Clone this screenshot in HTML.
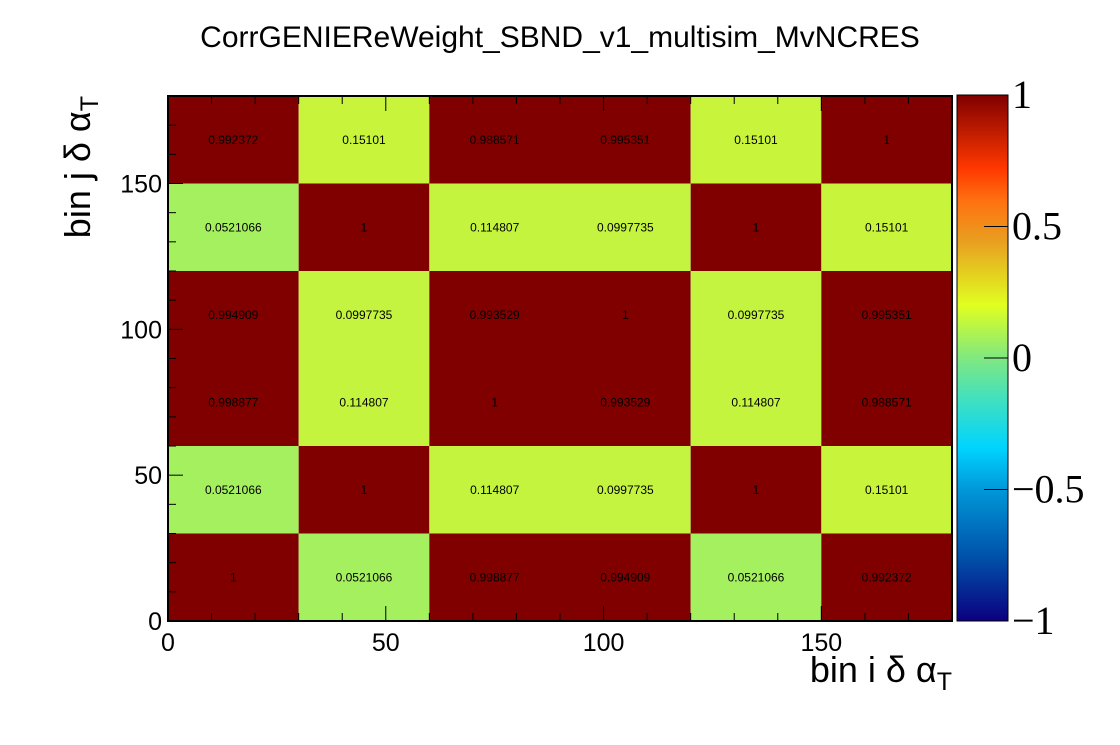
<!DOCTYPE html>
<html><head><meta charset="utf-8"><style>
body{margin:0;background:#fff;}
svg text{font-family:"Liberation Sans",sans-serif;}
</style></head><body>
<svg id="c" width="1120" height="740" xmlns="http://www.w3.org/2000/svg">
<rect width="1120" height="740" fill="#fff"/>
<text x="560" y="47" font-size="30" text-anchor="middle">CorrGENIEReWeight_SBND_v1_multisim_MvNCRES</text>
<g id="cells"></g>
<g id="axes"></g>
<defs><linearGradient id="grad" x1="0" y1="1" x2="0" y2="0">
<stop offset="0" stop-color="#0b0080"/><stop offset="0.12" stop-color="#0050a8"/><stop offset="0.25" stop-color="#0098d8"/><stop offset="0.33" stop-color="#00d4ff"/><stop offset="0.42" stop-color="#40e0c0"/><stop offset="0.5" stop-color="#80e880"/><stop offset="0.6" stop-color="#e0ff20"/><stop offset="0.72" stop-color="#e8a020"/><stop offset="0.8" stop-color="#ff7010"/><stop offset="0.86" stop-color="#ff3800"/><stop offset="1" stop-color="#800000"/>
</linearGradient></defs>
<rect x="957" y="95" width="51" height="526" fill="url(#grad)" stroke="#000" stroke-width="1"/>
<g id="cbar"></g>
<text x="952" y="682" font-size="36" text-anchor="end">bin i δ α<tspan font-size="25" dy="8">T</tspan></text>
<text transform="translate(90,96) rotate(-90)" font-size="36" text-anchor="end">bin j δ α<tspan font-size="25" dy="8">T</tspan></text>
</svg>
<script>
const binEdges=[0,30,60,90,120,150,180];
const row0=[1,0.0521066,0.998877,0.994909,0.0521066,0.992372];
const row1=[0.0521066,1,0.114807,0.0997735,1,0.15101];
const row2=[0.998877,0.114807,1,0.993529,0.114807,0.988571];
const row3=[0.994909,0.0997735,0.993529,1,0.0997735,0.995351];
const row4=[0.0521066,1,0.114807,0.0997735,1,0.15101];
const row5=[0.992372,0.15101,0.988571,0.995351,0.15101,1];
const xTicks=[0,50,100,150];
const yTicks=[0,50,100,150];
const cbTicks=[-1,-0.5,0,0.5,1];
const cbLabels=["\u22121","\u22120.5","0","0.5","1"];
const rows=[row0,row1,row2,row3,row4,row5];
const NS="http://www.w3.org/2000/svg";
const X0=168,X1=952,Y0=621,Y1=96;
const sx=v=>X0+(v-0)/180*(X1-X0);
const sy=v=>Y0-(v-0)/180*(Y0-Y1);
const cz=v=>Y0-(v+1)/2*(Y0-95);
function color(v){
  const st=[[-1,[11,0,128]],[-0.75,[0,80,168]],[-0.5,[0,152,216]],[-0.35,[0,212,255]],[-0.15,[64,224,192]],[0,[128,232,128]],[0.05,[164,240,96]],[0.1,[196,244,64]],[0.15,[200,245,60]],[0.22,[224,255,32]],[0.45,[232,160,32]],[0.6,[255,112,16]],[0.72,[255,56,0]],[0.9,[160,8,0]],[0.98,[128,0,0]],[1,[128,0,0]]];
  for(let i=1;i<st.length;i++){if(v<=st[i][0]){const a=st[i-1],b=st[i],t=(v-a[0])/(b[0]-a[0]);return 'rgb('+a[1].map((c,k)=>Math.round(c+t*(b[1][k]-c))).join(',')+')';}}
  return 'rgb(128,0,0)';
}
function mk(tag,attrs,parent){const e=document.createElementNS(NS,tag);for(const k in attrs)e.setAttribute(k,attrs[k]);parent.appendChild(e);return e;}
const cells=document.getElementById('cells');
for(let j=0;j<6;j++)for(let i=0;i<6;i++){
  const v=rows[j][i];
  const r=mk('rect',{x:sx(binEdges[i]),y:sy(binEdges[j+1]),width:sx(binEdges[i+1])-sx(binEdges[i]),height:sy(binEdges[j])-sy(binEdges[j+1]),fill:color(v)},cells);
  
  
  const t=mk('text',{x:(sx(binEdges[i])+sx(binEdges[i+1]))/2,y:(sy(binEdges[j])+sy(binEdges[j+1]))/2+4,'font-size':12,'text-anchor':'middle'},cells);
  t.textContent=String(v);
  
  
}
const ax=document.getElementById('axes');
const fr=mk('rect',{x:X0,y:Y1,width:X1-X0,height:Y0-Y1,fill:'none',stroke:'#000','stroke-width':2},ax);


for(let v=0;v<=180;v+=10){
  const L=v%50===0?15:8;
  mk('line',{x1:sx(v),x2:sx(v),y1:Y0,y2:Y0-L,stroke:'#000','stroke-width':1},ax);
  mk('line',{x1:sx(v),x2:sx(v),y1:Y1,y2:Y1+L,stroke:'#000','stroke-width':1},ax);
  mk('line',{x1:X0,x2:X0+L,y1:sy(v),y2:sy(v),stroke:'#000','stroke-width':1},ax);
}
xTicks.forEach(v=>{const t=mk('text',{x:sx(v),y:651,'font-size':25,'text-anchor':'middle'},ax);t.textContent=v;

});
yTicks.forEach(v=>{const t=mk('text',{x:162,y:sy(v)+9,'font-size':25,'text-anchor':'end'},ax);t.textContent=v;

});
const cb=document.getElementById('cbar');
cbTicks.forEach((v,k)=>{
  mk('line',{x1:984,x2:1008,y1:cz(v),y2:cz(v),stroke:'#000','stroke-width':1},cb);
  const t=mk('text',{x:1012,y:cz(v)+13,'font-size':40},cb);
  t.setAttribute('style','font-family:"Liberation Serif",serif');
  t.textContent=cbLabels[k];
  
  
});
</script>
</body></html>
